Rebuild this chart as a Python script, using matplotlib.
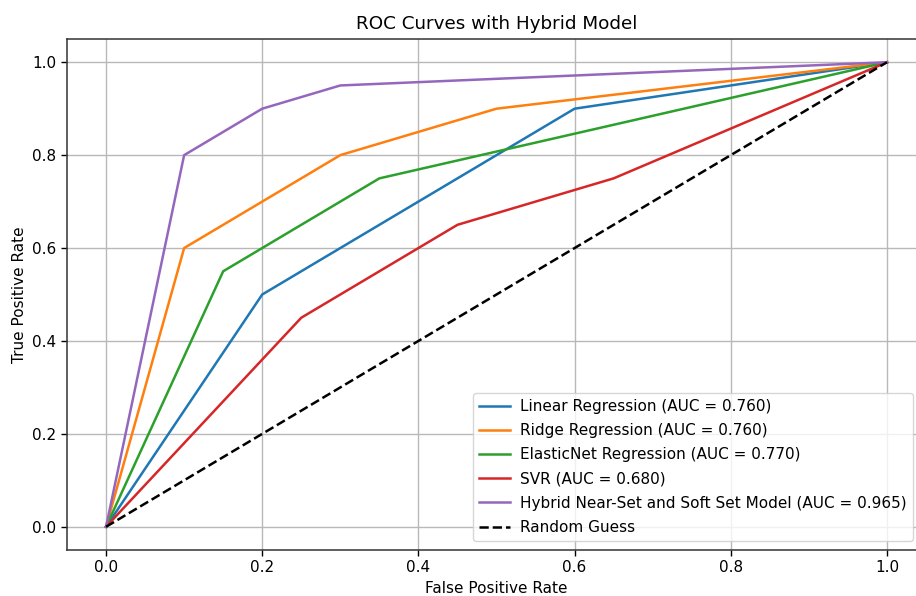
import matplotlib
matplotlib.use("Agg")
import matplotlib.pyplot as plt

# ROC points
linear_fpr = [0.0, 0.2, 0.6, 1.0]
linear_tpr = [0.0, 0.5, 0.9, 1.0]

ridge_fpr = [0.0, 0.1, 0.3, 0.5, 1.0]
ridge_tpr = [0.0, 0.6, 0.8, 0.9, 1.0]

elastic_fpr = [0.0, 0.15, 0.35, 1.0]
elastic_tpr = [0.0, 0.55, 0.75, 1.0]

svr_fpr = [0.0, 0.25, 0.45, 0.65, 1.0]
svr_tpr = [0.0, 0.45, 0.65, 0.75, 1.0]

hybrid_fpr = [0.0, 0.1, 0.2, 0.3, 1.0]
hybrid_tpr = [0.0, 0.8, 0.9, 0.95, 1.0]

labels = [
    "Linear Regression (AUC = 0.760)",
    "Ridge Regression (AUC = 0.760)",
    "ElasticNet Regression (AUC = 0.770)",
    "SVR (AUC = 0.680)",
    "Hybrid Near-Set and Soft Set Model (AUC = 0.965)",
]

fs = 11
fig = plt.figure(figsize=(9.16, 5.96), dpi=100)
# the reference is cropped on the right, so the axes run a bit past the edge
ax = fig.add_axes([67 / 916, 46 / 596, 859 / 916, 511 / 596])

curves = [
    (linear_fpr, linear_tpr),
    (ridge_fpr, ridge_tpr),
    (elastic_fpr, elastic_tpr),
    (svr_fpr, svr_tpr),
    (hybrid_fpr, hybrid_tpr),
]
for (fpr, tpr), label in zip(curves, labels):
    ax.plot(fpr, tpr, linewidth=1.8, label=label)

ax.plot([0, 1], [0, 1], "k--", linewidth=1.8, label="Random Guess")

ax.set_xlim(-0.05, 1.05)
ax.set_ylim(-0.05, 1.05)
ax.set_title("ROC Curves with Hybrid Model", fontsize=fs * 1.2, pad=7)
ax.set_xlabel("False Positive Rate", fontsize=fs)
ax.set_ylabel("True Positive Rate", fontsize=fs)
ax.tick_params(labelsize=fs, length=4, width=1)
for spine in ax.spines.values():
    spine.set_linewidth(1.1)
    spine.set_color("#333333")
ax.grid(True, linewidth=1.0, color="#b8b8b8")
ax.legend(loc="lower right", fontsize=fs, bbox_to_anchor=(913 / 916, 55 / 596),
          bbox_transform=fig.transFigure, borderaxespad=0, labelspacing=0.6,
          handletextpad=0.7)

fig.savefig("out.png", dpi=100)
